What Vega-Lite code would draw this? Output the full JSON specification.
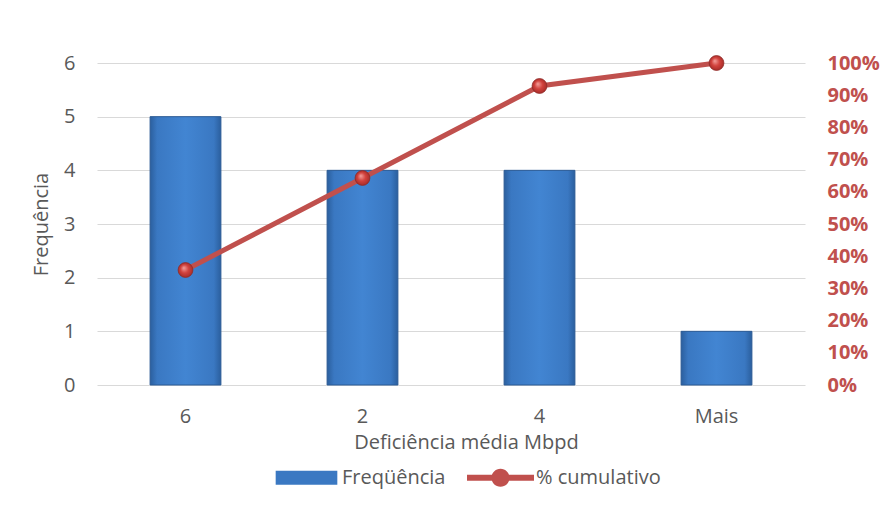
{
  "$schema": "https://vega.github.io/schema/vega-lite/v6.json",
  "width": 708,
  "height": 322,
  "autosize": "none",
  "padding": {"left": 97, "top": 63, "right": 80, "bottom": 121},
  "background": "white",
  "config": {
    "font": "Open Sans",
    "view": {"stroke": null},
    "axis": {
      "labelFont": "Open Sans",
      "titleFont": "Open Sans",
      "labelFontSize": 20,
      "titleFontSize": 20,
      "labelColor": "#595959",
      "titleColor": "#595959",
      "titleFontWeight": "normal",
      "domain": false,
      "ticks": false
    },
    "legend": {"labelFont": "Open Sans"}
  },
  "data": {
    "values": [
      {"classe": "6", "freq": 5, "cum": 0.3571},
      {"classe": "2", "freq": 4, "cum": 0.6429},
      {"classe": "4", "freq": 4, "cum": 0.9286},
      {"classe": "Mais", "freq": 1, "cum": 1.0}
    ]
  },
  "encoding": {
    "x": {
      "field": "classe",
      "type": "nominal",
      "sort": null,
      "scale": {"paddingInner": 0.6, "paddingOuter": 0.3},
      "axis": {
        "title": "Deficiência média Mbpd",
        "labelAngle": 0,
        "labelPadding": 21,
        "titlePadding": 6,
        "titleX": 369
      }
    }
  },
  "layer": [
    {
      "mark": {
        "type": "bar",
        "fill": {
          "gradient": "linear",
          "x1": 0, "y1": 0, "x2": 1, "y2": 0,
          "stops": [
            {"offset": 0, "color": "#2b5f9e"},
            {"offset": 0.1, "color": "#3a78c2"},
            {"offset": 0.5, "color": "#4285d2"},
            {"offset": 0.9, "color": "#3a78c2"},
            {"offset": 1, "color": "#2b5f9e"}
          ]
        },
        "stroke": "#2a5a94",
        "strokeWidth": 1
      },
      "encoding": {
        "y": {
          "field": "freq",
          "type": "quantitative",
          "scale": {"domain": [0, 6]},
          "axis": {
            "title": "Frequência",
            "values": [0, 1, 2, 3, 4, 5, 6],
            "grid": true,
            "gridColor": "#d9d9d9",
            "gridWidth": 1,
            "labelPadding": 22,
            "titlePadding": 12
          }
        }
      }
    },
    {
      "encoding": {
        "y": {
          "field": "cum",
          "type": "quantitative",
          "scale": {"domain": [0, 1]},
          "axis": {
            "orient": "right",
            "title": null,
            "grid": false,
            "format": ".0%",
            "values": [0, 0.1, 0.2, 0.3, 0.4, 0.5, 0.6, 0.7, 0.8, 0.9, 1],
            "labelColor": "#c0504d",
            "labelFontWeight": "bold",
            "labelPadding": 22
          }
        }
      },
      "layer": [
        {
          "mark": {"type": "line", "color": "#c0504d", "strokeWidth": 5}
        },
        {
          "mark": {
            "type": "point",
            "filled": true,
            "opacity": 1,
            "size": 220,
            "fill": {
              "gradient": "radial",
              "x1": 0.38, "y1": 0.35, "r1": 0,
              "x2": 0.5, "y2": 0.5, "r2": 0.55,
              "stops": [
                {"offset": 0, "color": "#f3a19d"},
                {"offset": 0.5, "color": "#d2423d"},
                {"offset": 1, "color": "#a22a26"}
              ]
            },
            "stroke": "#8e2b28",
            "strokeWidth": 0.8
          }
        },
        {
          "transform": [{"filter": "false"}],
          "mark": {"type": "point", "filled": true, "opacity": 1},
          "encoding": {
            "color": {
              "field": "serie",
              "type": "nominal",
              "scale": {
                "domain": ["Freqüência", "% cumulativo"],
                "range": ["#3a78c2", "#c0504d"]
              },
              "legend": {
                "orient": "none",
                "legendX": 175,
                "legendY": 380,
                "direction": "horizontal",
                "title": null,
                "labelFontSize": 20,
                "labelColor": "#595959",
                "symbolSize": 4489,
                "symbolOpacity": 1,
                "labelOffset": 1,
                "columnPadding": 20
              }
            },
            "shape": {
              "field": "serie",
              "type": "nominal",
              "scale": {
                "domain": ["Freqüência", "% cumulativo"],
                "range": [
                  "M-0.92,-0.21H0.92V0.21H-0.92Z",
                  "M-1,-0.09H1V0.09H-1Z M-0.27,0A0.27,0.27,0,1,1,0.27,0A0.27,0.27,0,1,1,-0.27,0Z"
                ]
              },
              "legend": null
            }
          }
        }
      ]
    }
  ],
  "resolve": {"scale": {"y": "independent"}}
}
